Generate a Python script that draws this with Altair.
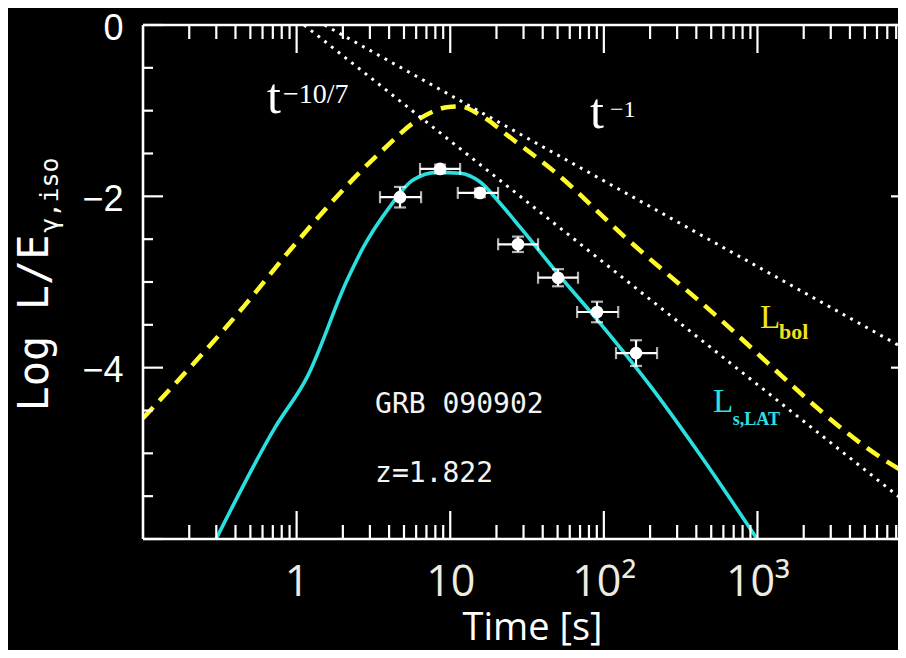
import altair as alt
import pandas as pd

W, H = 755, 514

# ---------------- data ----------------
# L_s,LAT model curve (cyan)
lat_t = [0.299, 0.723, 1.17, 2.13, 2.71, 4.05, 5.72, 8.21, 11.6, 15.6, 21.1, 28.5, 49.5, 94.4, 200, 424, 995]
lat_y = [-6.0, -4.70, -4.11, -2.98, -2.60, -2.12, -1.81, -1.72, -1.73, -1.83, -2.08, -2.36, -2.89, -3.48, -4.21, -5.02, -6.0]

# L_bol model curve (yellow dashed)
bol_t = [0.1, 0.461, 0.933, 3.49, 6.36, 9.52, 11.6, 15.6, 25.7, 46.8, 142, 405, 8510, 10000]
bol_y = [-4.59, -3.27, -2.60, -1.49, -1.09, -0.96, -0.95, -1.05, -1.34, -1.70, -2.50, -3.20, -5.19, -5.26]

# reference power laws (white dotted)
pl_name = ["t^-10/7", "t^-10/7", "t^-1", "t^-1"]
pl_t = [1.12, 10000, 1.52, 10000]
pl_y = [0.0, -5.62, 0.0, -3.82]

# LAT data points with error bars
pt_t = [4.71, 8.59, 15.6, 27.6, 50.3, 90.3, 162]
pt_y = [-2.01, -1.68, -1.96, -2.56, -2.95, -3.35, -3.83]
pt_tlo = [3.49, 6.36, 11.2, 20.5, 37.3, 67.0, 120]
pt_thi = [6.46, 11.6, 20.5, 37.3, 67.9, 124, 222]
pt_yerr = [0.12, 0.05, 0.05, 0.09, 0.10, 0.12, 0.15]

# axis ticks
x_major = [1, 10, 100, 1000]
x_minor = [0.2, 0.3, 0.4, 0.5, 0.6, 0.7, 0.8, 0.9,
           2, 3, 4, 5, 6, 7, 8, 9,
           20, 30, 40, 50, 60, 70, 80, 90,
           200, 300, 400, 500, 600, 700, 800, 900,
           2000, 3000, 4000, 5000, 6000, 7000, 8000]
y_major = [0, -2, -4, -6]
y_minor = [-0.5, -1, -1.5, -2.5, -3, -3.5, -4.5, -5, -5.5]
x_labels = [1, 10, 100, 1000]
y_labels = [0, -2, -4]

# annotations (text, anchor t, anchor logL)
big_text = ["t", "t"]
big_t = [0.641, 81.3]
big_y = [-1.027, -1.202]
sup_text = ["\u221210/7", "\u22121"]
sup_t = [0.816, 109.7]
sup_y = [-0.910, -1.074]
sup_size = [28, 24]
grb_text = ["GRB 090902", "z=1.822"]
grb_t = [3.24, 3.24]
grb_y = [-4.529, -5.334]
lab_text = ["L", "L"]
lab_t = [1040, 514]
lab_y = [-3.537, -4.517]
lab_col = ["#F0E41C", "#2EE0E0"]
sub_text = ["bol", "s,LAT"]
sub_t = [1380, 690]
sub_y = [-3.665, -4.669]
sub_size = [22, 18]

CYAN = "#2ADFE0"
YELLOW = "#FFFA2A"

# ---------------- helpers ----------------
XS = alt.Scale(type="log", domain=[0.1, 8220], nice=False, zero=False)
YS = alt.Scale(domain=[-6, 0], nice=False, zero=False)

XAX = alt.Axis(
    values=x_labels,
    labelExpr="datum.value == 1 ? '1' : datum.value == 10 ? '10' : datum.value == 100 ? '10\u00b2' : '10\u00b3'",
    labelFont="Open Sans", labelFontSize=43, labelColor="#EEECE1",
    labelPadding=22, ticks=False, tickSize=0, domain=False, grid=False,
    labelFlush=False, labelOverlap=False,
    title="Time [s]", titleFont="Open Sans", titleFontSize=38,
    titleFontWeight="normal", titleColor="white",
    titleX=389, titleY=100, titleBaseline="alphabetic", titleAlign="center",
)
YAX = alt.Axis(
    values=y_labels,
    labelFont="Liberation Sans Narrow, Liberation Sans", labelFontSize=36,
    labelColor="white", labelPadding=20, labelOffset=3, ticks=False, tickSize=0,
    domain=False, grid=False, labelFlush=False, labelOverlap=False,
    labelBaseline="middle", title=None,
)


def X(field):
    return alt.X(field, type="quantitative", scale=XS, axis=XAX)


def Y(field):
    return alt.Y(field, type="quantitative", scale=YS, axis=YAX)


# ---------------- tables ----------------
df_lat = pd.DataFrame({"t": lat_t, "y": lat_y})
df_bol = pd.DataFrame({"t": bol_t, "y": bol_y})
df_pl = pd.DataFrame({"name": pl_name, "t": pl_t, "y": pl_y})
df_pt = pd.DataFrame({"t": pt_t, "y": pt_y, "tlo": pt_tlo, "thi": pt_thi})
df_pt["ylo"] = [a - b for a, b in zip(pt_y, pt_yerr)]
df_pt["yhi"] = [a + b for a, b in zip(pt_y, pt_yerr)]
df_xmaj = pd.DataFrame({"t": x_major})
df_xmin = pd.DataFrame({"t": x_minor})
df_ymaj = pd.DataFrame({"y": y_major})
df_ymin = pd.DataFrame({"y": y_minor})
one = pd.DataFrame({"k": [0]})

layers = []

# curves
layers.append(
    alt.Chart(df_lat).mark_line(color=CYAN, strokeWidth=3.6, interpolate="monotone", clip=True)
    .encode(x=X("t"), y=Y("y"))
)
layers.append(
    alt.Chart(df_bol).mark_line(color=YELLOW, strokeWidth=4.5, strokeDash=[15, 9],
                                interpolate="monotone", clip=True)
    .encode(x=X("t"), y=Y("y"))
)
layers.append(
    alt.Chart(df_pl).mark_line(color="white", strokeWidth=3.0, strokeDash=[2.8, 5.8], clip=True)
    .encode(x=X("t"), y=Y("y"), detail="name:N")
)

# frame
frame = alt.Chart(one).mark_rule(color="white", strokeWidth=2.6)
layers.append(frame.encode(x=alt.value(0), x2=alt.value(W + 20), y=alt.value(0)))
layers.append(frame.encode(x=alt.value(0), x2=alt.value(W + 20), y=alt.value(H)))
layers.append(frame.encode(x=alt.value(0), y=alt.value(0), y2=alt.value(H)))

# ticks (right frame lies just beyond the visible edge)
RX = W + 13
tk = dict(color="white", strokeWidth=2.2)
layers.append(alt.Chart(df_xmaj).mark_rule(**tk).encode(x=X("t"), y=alt.value(H), y2=alt.value(H - 28)))
layers.append(alt.Chart(df_xmaj).mark_rule(**tk).encode(x=X("t"), y=alt.value(0), y2=alt.value(28)))
layers.append(alt.Chart(df_xmin).mark_rule(**tk).encode(x=X("t"), y=alt.value(H), y2=alt.value(H - 14)))
layers.append(alt.Chart(df_xmin).mark_rule(**tk).encode(x=X("t"), y=alt.value(0), y2=alt.value(14)))
layers.append(alt.Chart(df_ymaj).mark_rule(**tk).encode(y=Y("y"), x=alt.value(0), x2=alt.value(20)))
layers.append(alt.Chart(df_ymin).mark_rule(**tk).encode(y=Y("y"), x=alt.value(0), x2=alt.value(10)))
layers.append(alt.Chart(df_ymaj).mark_rule(**tk).encode(y=Y("y"), x=alt.value(RX), x2=alt.value(RX - 20)))
layers.append(alt.Chart(df_ymin).mark_rule(**tk).encode(y=Y("y"), x=alt.value(RX), x2=alt.value(RX - 10)))

# error bars and points
eb = alt.Chart(df_pt)
layers.append(eb.mark_rule(color="white", strokeWidth=2.2).encode(x=X("tlo"), x2="thi", y=Y("y")))
layers.append(eb.mark_rule(color="white", strokeWidth=2.2).encode(x=X("t"), y=Y("ylo"), y2="yhi"))
layers.append(eb.mark_tick(color="white", orient="vertical", size=12, thickness=2.2).encode(x=X("tlo"), y=Y("y")))
layers.append(eb.mark_tick(color="white", orient="vertical", size=12, thickness=2.2).encode(x=X("thi"), y=Y("y")))
layers.append(eb.mark_tick(color="white", orient="horizontal", size=12, thickness=2.2).encode(x=X("t"), y=Y("ylo")))
layers.append(eb.mark_tick(color="white", orient="horizontal", size=12, thickness=2.2).encode(x=X("t"), y=Y("yhi")))
layers.append(eb.mark_circle(color="white", size=160, opacity=1).encode(x=X("t"), y=Y("y")))

# annotations
layers.append(
    alt.Chart(pd.DataFrame({"s": big_text, "t": big_t, "y": big_y}))
    .mark_text(font="Liberation Serif", fontSize=50, color="white", align="left", baseline="alphabetic")
    .encode(x=X("t"), y=Y("y"), text="s:N")
)
layers.append(
    alt.Chart(pd.DataFrame({"s": sup_text, "t": sup_t, "y": sup_y, "fs": sup_size}))
    .mark_text(font="Liberation Serif", color="white", align="left", baseline="alphabetic")
    .encode(x=X("t"), y=Y("y"), text="s:N", size=alt.Size("fs:Q", scale=None, legend=None))
)
layers.append(
    alt.Chart(pd.DataFrame({"s": grb_text, "t": grb_t, "y": grb_y}))
    .mark_text(font="DejaVu Sans Mono", fontSize=28, color="#F4F4F4", align="left", baseline="alphabetic")
    .encode(x=X("t"), y=Y("y"), text="s:N")
)
layers.append(
    alt.Chart(pd.DataFrame({"s": lab_text, "t": lab_t, "y": lab_y, "c": lab_col}))
    .mark_text(font="Liberation Serif", fontSize=33, align="left", baseline="alphabetic")
    .encode(x=X("t"), y=Y("y"), text="s:N", color=alt.Color("c:N", scale=None, legend=None))
)
layers.append(
    alt.Chart(pd.DataFrame({"s": sub_text, "t": sub_t, "y": sub_y, "c": lab_col, "fs": sub_size}))
    .mark_text(font="Liberation Serif", fontWeight="bold", align="left", baseline="alphabetic")
    .encode(x=X("t"), y=Y("y"), text="s:N",
            color=alt.Color("c:N", scale=None, legend=None),
            size=alt.Size("fs:Q", scale=None, legend=None))
)

# y-axis title (rotated, with subscript)
layers.append(
    alt.Chart(pd.DataFrame({"s": ["Log L/E"]}))
    .mark_text(font="DejaVu Sans Mono", fontSize=42, color="white", angle=270,
               align="center", baseline="middle")
    .encode(text="s:N", x=alt.value(-108), y=alt.value(298))
)
layers.append(
    alt.Chart(pd.DataFrame({"s": ["\u03b3,iso"]}))
    .mark_text(font="DejaVu Sans Mono", fontSize=25, color="white", angle=270,
               align="center", baseline="middle")
    .encode(text="s:N", x=alt.value(-93), y=alt.value(170))
)

chart = (
    alt.layer(*layers)
    .properties(
        width=W, height=H, background="black",
        padding={"left": 135, "top": 17, "right": 0, "bottom": 111},
        autosize=alt.AutoSizeParams(type="none"),
    )
    .configure_view(stroke=None)
)

chart.save("out.html", embed_options={"renderer": "svg", "actions": False})
